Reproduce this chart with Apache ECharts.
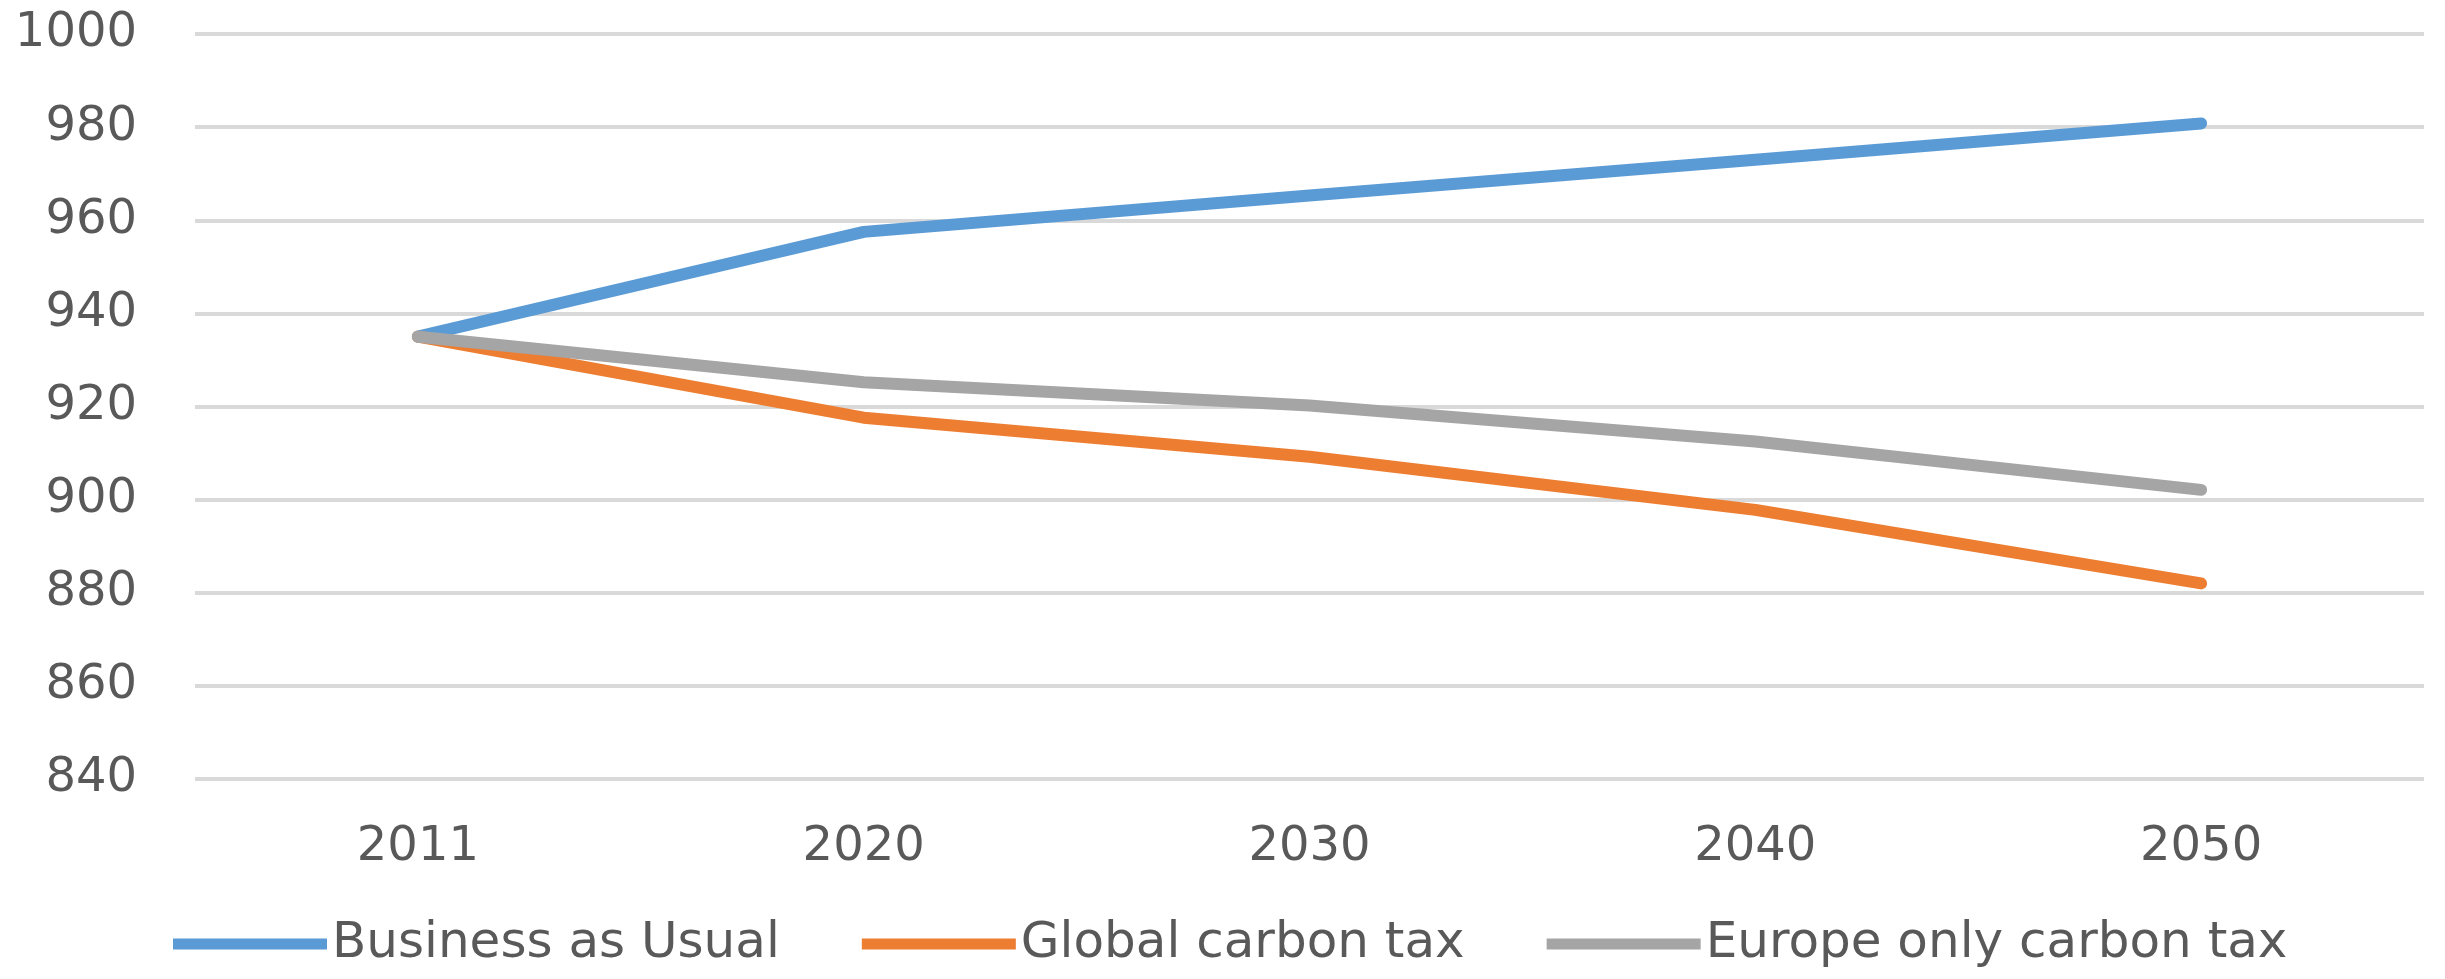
<!DOCTYPE html>
<html lang="en">
<head>
  <meta charset="UTF-8">
  <title>Carbon tax scenarios</title>
  <script src="https://cdn.jsdelivr.net/npm/echarts@6/dist/echarts.min.js"></script>
  <style>
    html, body {
      margin: 0;
      padding: 0;
      background: #ffffff;
    }
    #chart {
      width: 2445px;
      height: 979px;
    }
  </style>
</head>
<body>
  <div id="chart"></div>
  <script>
    // data
    var years = ['2011', '2020', '2030', '2040', '2050'];
    var businessAsUsual = [935, 957.5, 965.3, 973, 980.8];
    var globalCarbonTax = [935, 917.6, 909.2, 897.8, 882];
    var europeOnlyTax = [935, 925.2, 920.2, 912.5, 902.1];
    var seriesNames = ['Business as Usual', 'Global carbon tax', 'Europe only carbon tax'];
    var seriesColors = ['#5b9bd5', '#ed7d31', '#a5a5a5'];

    var textColor = '#595959';
    var fontFamily = '"DejaVu Sans", sans-serif';

    var chart = echarts.init(document.getElementById('chart'));

    function lineSeries(name, data, color) {
      return {
        name: name,
        type: 'line',
        data: data,
        symbol: 'none',
        smooth: false,
        lineStyle: { width: 12, color: color, cap: 'round', join: 'round' },
        itemStyle: { color: color }
      };
    }

    chart.setOption({
      animation: false,
      grid: {
        left: 195,
        right: 21,
        top: 34,
        bottom: 200
      },
      legend: {
        left: 168,
        top: 914,
        icon: 'rect',
        itemWidth: 154,
        itemHeight: 11,
        itemGap: 82,
        textStyle: {
          color: textColor,
          fontFamily: fontFamily,
          fontSize: 50
        },
        data: seriesNames
      },
      xAxis: {
        type: 'category',
        data: years,
        boundaryGap: true,
        axisLine: { show: false },
        axisTick: { show: false },
        axisLabel: {
          color: textColor,
          fontFamily: fontFamily,
          fontSize: 48,
          margin: 45
        }
      },
      yAxis: {
        type: 'value',
        min: 840,
        max: 1000,
        interval: 20,
        axisLine: { show: false },
        axisTick: { show: false },
        splitLine: {
          lineStyle: { color: '#d9d9d9', width: 4 }
        },
        axisLabel: {
          color: textColor,
          fontFamily: fontFamily,
          fontSize: 48,
          margin: 58,
          padding: [0, 0, 6, 0],
          formatter: function (v) { return String(v); }
        }
      },
      series: [
        lineSeries(seriesNames[0], businessAsUsual, seriesColors[0]),
        lineSeries(seriesNames[1], globalCarbonTax, seriesColors[1]),
        lineSeries(seriesNames[2], europeOnlyTax, seriesColors[2])
      ]
    });
  </script>
</body>
</html>
